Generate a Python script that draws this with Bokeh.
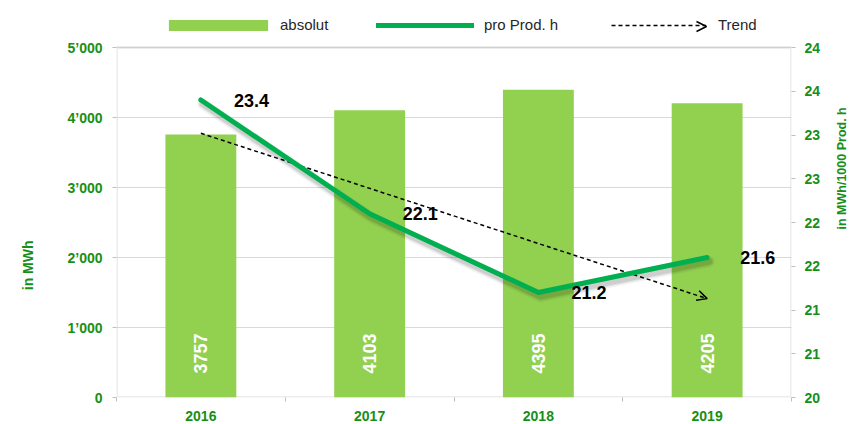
import math
from bokeh.plotting import figure
from bokeh.models import (Range1d, LinearAxis, FixedTicker, Legend, LegendItem,
                          Arrow, OpenHead, BoxAnnotation)
from bokeh.core.properties import value
from bokeh.embed import file_html
from bokeh.resources import INLINE

# ---------------- data ----------------
years = ["2016", "2017", "2018", "2019"]
absolut = [3757, 4103, 4395, 4205]
pro_prod_h = [23.4, 22.1, 21.2, 21.6]
trend = [23.02, 21.13]          # trend line start (2016) and end (2019)

left_ticks = [0, 1000, 2000, 3000, 4000, 5000]
left_tick_labels = ["0", "1’000", "2’000", "3’000", "4’000", "5’000"]
right_ticks = [20, 20.5, 21, 21.5, 22, 22.5, 23, 23.5, 24]
right_tick_labels = ["20", "21", "21", "22", "22", "23", "23", "24", "24"]
left_title = "in MWh"
right_title = "in MWh/1000 Prod. h"

# ---------------- style / layout ----------------
FONT = "Liberation Sans"
GREEN_TXT = "#178F17"
BAR = "#92D050"
LINE = "#00B050"
GRAY = "#BFBFBF"
W, H = 858, 424
B_LEFT, B_RIGHT, B_BOTTOM = 116, 65, 27
PLOT_H = 350                 # pixel height of the drawn chart box
FRAME_H = H - B_BOTTOM       # frame spans up to the top edge (room for legend)
EXT = FRAME_H / PLOT_H
L_TITLE_Y = 240              # px from top, centre of left title
R_TITLE_Y = 229              # px from top, centre of right title

lo_l, hi_l = left_ticks[0], left_ticks[-1]
lo_r, hi_r = right_ticks[0], right_ticks[-1]

xs = list(range(len(years)))

p = figure(width=W, height=H,
           x_range=Range1d(-0.5, len(years) - 0.5),
           y_range=Range1d(lo_l, lo_l + (hi_l - lo_l) * EXT),
           output_backend="svg", toolbar_location=None,
           min_border_left=B_LEFT, min_border_right=B_RIGHT,
           min_border_top=0, min_border_bottom=B_BOTTOM)
p.extra_y_ranges = {"right": Range1d(lo_r, lo_r + (hi_r - lo_r) * EXT)}

p.outline_line_color = None
p.background_fill_color = "white"
p.border_fill_color = "white"

# grid
p.xgrid.visible = False
p.ygrid.ticker = FixedTicker(ticks=left_ticks)
p.ygrid.grid_line_color = "#D9D9D9"
p.ygrid.grid_line_width = 1


def style_ticklabels(ax):
    ax.major_label_text_font = FONT
    ax.major_label_text_font_style = "bold"
    ax.major_label_text_font_size = "14px"
    ax.major_label_text_color = GREEN_TXT
    ax.axis_line_color = None
    ax.minor_tick_line_color = None


# left axis
ya = p.yaxis[0]
ya.ticker = FixedTicker(ticks=left_ticks)
ya.major_label_overrides = dict(zip(left_ticks, left_tick_labels))
style_ticklabels(ya)
ya.major_tick_line_color = GRAY
ya.major_tick_out = 4
ya.major_tick_in = 0
ya.major_label_standoff = 10

# left title as a one-tick axis (lets us set its vertical position)
lt_val = lo_l + (hi_l - lo_l) * (FRAME_H - L_TITLE_Y) / PLOT_H
lta = LinearAxis(ticker=FixedTicker(ticks=[lt_val]),
                 major_label_overrides={lt_val: left_title},
                 major_label_orientation=math.pi / 2)
style_ticklabels(lta)
lta.major_tick_line_color = None
lta.major_tick_out = 0
lta.major_label_standoff = 37
p.add_layout(lta, "left")

# bottom axis
xa = p.xaxis[0]
xa.ticker = FixedTicker(ticks=xs, minor_ticks=[x - 0.5 for x in xs] + [xs[-1] + 0.5])
xa.major_label_overrides = dict(zip(xs, years))
style_ticklabels(xa)
xa.major_tick_line_color = None
xa.major_tick_out = 0
xa.minor_tick_line_color = GRAY
xa.minor_tick_out = 4
xa.minor_tick_in = 0
xa.major_label_standoff = 9

# right axis
ra = LinearAxis(y_range_name="right", ticker=FixedTicker(ticks=right_ticks))
ra.major_label_overrides = dict(zip(right_ticks, right_tick_labels))
style_ticklabels(ra)
ra.major_tick_line_color = GRAY
ra.major_tick_out = 4
ra.major_tick_in = 0
ra.major_label_standoff = 9
p.add_layout(ra, "right")

# right title as a one-tick axis, reading bottom-to-top
rt_val = lo_r + (hi_r - lo_r) * (FRAME_H - R_TITLE_Y) / PLOT_H
rta = LinearAxis(y_range_name="right", ticker=FixedTicker(ticks=[rt_val]),
                 major_label_overrides={rt_val: right_title},
                 major_label_orientation=math.pi / 2)
style_ticklabels(rta)
rta.major_label_text_font_size = "12.5px"
rta.major_tick_line_color = None
rta.major_tick_out = 0
rta.major_label_standoff = 18
p.add_layout(rta, "right")

# bars
bars = p.vbar(x=xs, top=absolut, width=0.42, fill_color=BAR, line_color=None)

# chart box border
p.add_layout(BoxAnnotation(left=-0.5, right=len(years) - 0.5, bottom=lo_l, top=hi_l,
                           fill_alpha=0, line_color=GRAY, line_width=3,
                           level="underlay"))

# bar value labels (white, rotated)
p.text(x=xs, y=[lo_l] * len(xs), text=[str(v) for v in absolut],
       angle=math.pi / 2, text_align="left", text_baseline="middle",
       y_offset=-24, text_color="white",
       text_font=value(FONT), text_font_style="bold", text_font_size="18px")

# trend (dashed) with arrow head
trend_line = p.line(x=[xs[0], xs[-1]], y=trend, y_range_name="right",
                    line_color="black", line_width=1.5, line_dash="4 3")
p.add_layout(Arrow(x_start=xs[0], y_start=trend[0], x_end=xs[-1], y_end=trend[1],
                   y_range_name="right", line_alpha=0,
                   end=OpenHead(size=10, line_width=1.5, line_color="black")))

# soft shadow under the green line (2px right, 4px down)
dx = 2 / (677 / len(years))
dy = 4 / (PLOT_H / (hi_r - lo_r))
for w, a in [(11, 0.05), (8, 0.07), (6, 0.08)]:
    p.line(x=[x + dx for x in xs], y=[v - dy for v in pro_prod_h],
           y_range_name="right", line_color="black", line_alpha=a,
           line_width=w, line_cap="round", line_join="round")

# pro Prod. h line
line = p.line(x=xs, y=pro_prod_h, y_range_name="right",
              line_color=LINE, line_width=5, line_cap="round", line_join="round")

# value labels for line
p.text(x=xs, y=pro_prod_h, text=[f"{v:.1f}" for v in pro_prod_h],
       y_range_name="right", x_offset=33, text_align="left",
       text_baseline="middle", text_color="black",
       text_font=value(FONT), text_font_style="bold", text_font_size="18px")

# legend: three single-item legends along the top
LEG_Y = FRAME_H - 26          # centre of legend row, px from frame bottom
leg_common = dict(orientation="horizontal", padding=0, margin=0,
                  border_line_color=None, background_fill_alpha=0,
                  label_text_font=FONT, label_text_font_size="15px",
                  label_text_color="#262626", label_height=14, glyph_height=14)
p.add_layout(Legend(items=[LegendItem(label="absolut", renderers=[bars])],
                    location=(40, LEG_Y - 7), glyph_width=124, label_standoff=-6,
                    **leg_common), "center")
p.add_layout(Legend(items=[LegendItem(label="pro Prod. h", renderers=[line])],
                    location=(260, LEG_Y - 7), glyph_width=98, label_standoff=10,
                    **leg_common), "center")
p.add_layout(Legend(items=[LegendItem(label="Trend", renderers=[trend_line])],
                    location=(495, LEG_Y - 7), glyph_width=95, label_standoff=12,
                    **leg_common), "center")
p.add_layout(Arrow(x_start=580, y_start=LEG_Y, x_end=590, y_end=LEG_Y,
                   start_units="screen", end_units="screen", line_alpha=0,
                   end=OpenHead(size=10, line_width=1.5, line_color="black")))

open("out.html", "w").write(file_html(p, INLINE))
